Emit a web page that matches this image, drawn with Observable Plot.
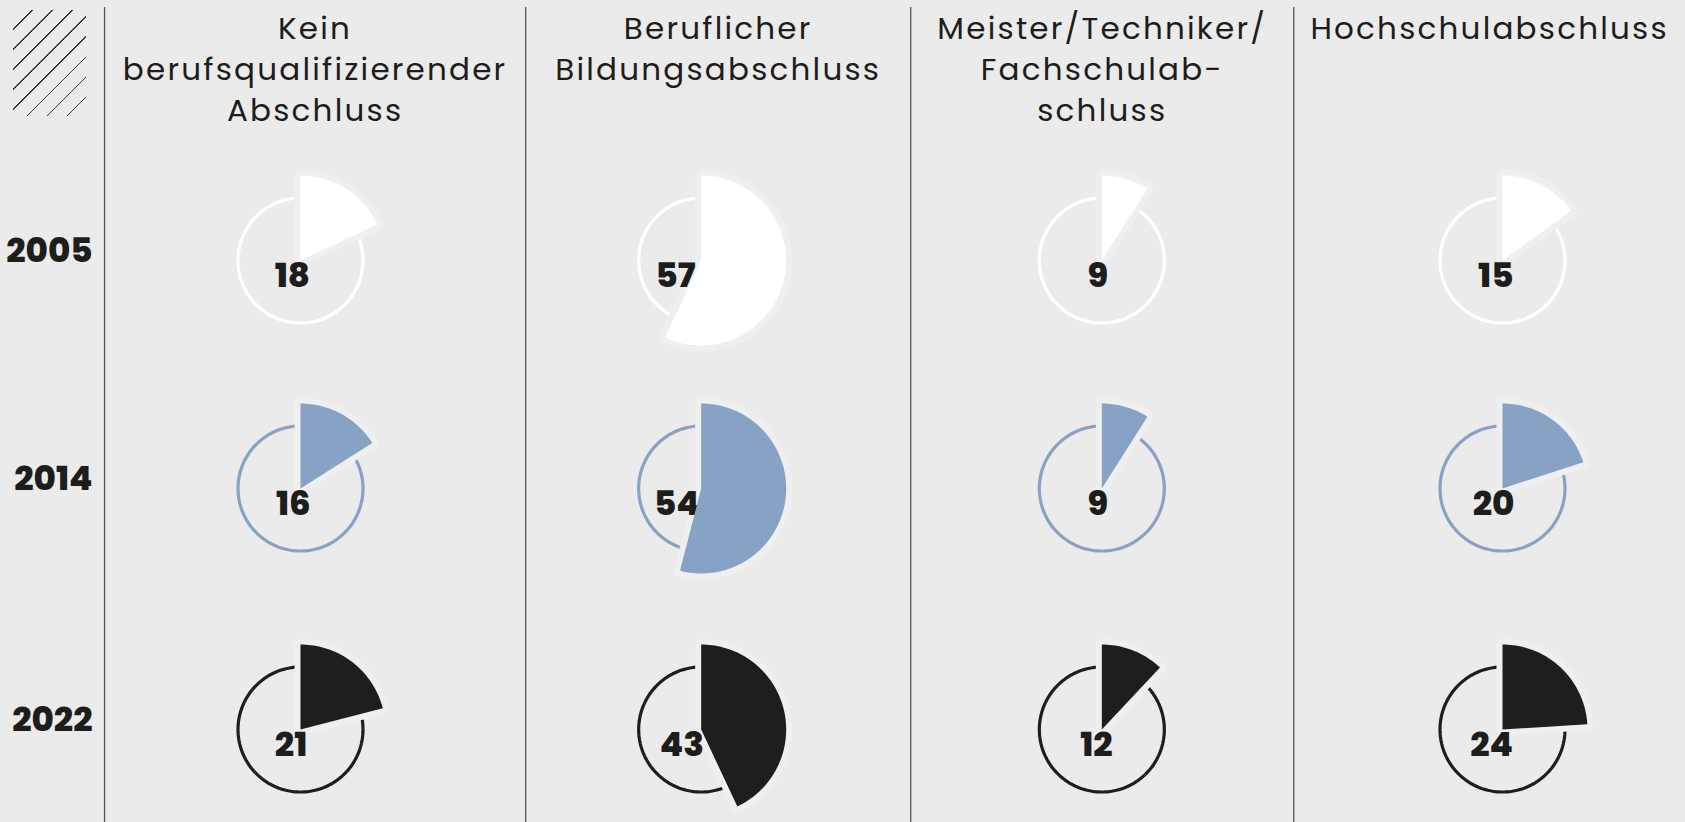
<!DOCTYPE html>
<html><head><meta charset="utf-8">
<script src="https://cdn.jsdelivr.net/npm/d3@7"></script>
<script src="https://cdn.jsdelivr.net/npm/@observablehq/plot@0.6"></script>
<style>
html,body{margin:0;padding:0;background:#ebebeb;}
#wrap{position:relative;width:1685px;height:822px;overflow:hidden;background:#ebebeb;}
#wrap svg{position:absolute;left:0;top:0;}
#hatch{position:absolute;left:13px;top:10px;width:73px;height:106px;z-index:2;
  background:repeating-linear-gradient(135deg, transparent 0 13.2px, #3b3a30 13.2px 14.2px);}
g[aria-description="header"] text{letter-spacing:2.2px;}
</style></head><body><div id="wrap"><div id="hatch"></div></div>
<script>
// ---- data ----
const categories = ["Kein berufsqualifizierender Abschluss", "Beruflicher Bildungsabschluss", "Meister/Techniker/Fachschulabschluss", "Hochschulabschluss"];
const headerLines = [["Kein", "berufsqualifizierender", "Abschluss"], ["Beruflicher", "Bildungsabschluss"], ["Meister/Techniker/", "Fachschulab-", "schluss"], ["Hochschulabschluss"]];
const years = ["2005", "2014", "2022"];
const values2005 = [18, 57, 9, 15];
const values2014 = [16, 54, 9, 20];
const values2022 = [21, 43, 12, 24];
const yearColors = ["#ffffff", "#87a2c4", "#1e1e1c"];

// ---- layout ----
const W = 1685, H = 822;
const colDomain = [0, 3], colRange = [300, 1502];
const rowDomain = [0, 1, 2], rowRange = [260, 488, 729];
const colScale = d3.scaleLinear(colDomain, colRange);
const rowScale = d3.scaleLinear(rowDomain, rowRange);
const wedgeR = 85, ringR = 62.5;
const dividers = [-0.489, 0.562, 1.523, 2.479, colScale.invert(W)];
const halo = "#efefef", ink = "#1d1d1b";
const font = "Poppins, 'Open Sans', sans-serif";

const series = [values2005, values2014, values2022];
const cells = [];
series.forEach((vals, r) => vals.forEach((v, c) => cells.push({year: years[r], cat: categories[c], value: v, row: r, col: c, key: years[r] + "|" + c})));

// offset a cell centre by pixel amounts, expressed back in data units
const at = (d, px, py) => ({x: colScale.invert(colScale(d.col) + px), y: rowScale.invert(rowScale(d.row) + py), key: d.key, year: d.year});

function wedgePts(d) {
  const pts = [at(d, 0, 0)];
  const n = Math.max(4, Math.ceil(d.value * 2));
  const end = d.value / 100 * 2 * Math.PI;
  for (let k = 0; k <= n; k++) {
    const a = end * k / n;
    pts.push(at(d, wedgeR * Math.sin(a), -wedgeR * Math.cos(a)));
  }
  pts.push(at(d, 0, 0));
  pts.push(pts[1]);
  return pts;
}
function ringPts(d) {
  const pts = [];
  for (let k = 0; k <= 160; k++) {
    const a = 2 * Math.PI * k / 160;
    pts.push(at(d, ringR * Math.sin(a), -ringR * Math.cos(a)));
  }
  return pts;
}
const wedges = cells.flatMap(wedgePts);
const rings = cells.flatMap(ringPts);
const labels = cells.map(d => ({...at(d, -0.45 * d.value, 16), value: d.value}));

const chart = Plot.plot({
  width: W, height: H,
  marginLeft: 0, marginRight: 0, marginTop: 7, marginBottom: 0,
  style: {background: "transparent", overflow: "visible"},
  x: {type: "linear", domain: colDomain, range: colRange, axis: null},
  y: {type: "linear", domain: rowDomain, range: rowRange, axis: null},
  color: {domain: years, range: yearColors},
  marks: [
    Plot.ruleX(dividers.slice(0, 4), {stroke: "#555", strokeWidth: 1.3}),
    Plot.line(rings, {x: "x", y: "y", z: "key", stroke: "year", strokeWidth: 3.2, curve: "linear"}),
    Plot.line(wedges, {x: "x", y: "y", z: "key", fill: halo, stroke: halo, strokeWidth: 12, strokeLinejoin: "round", curve: "linear"}),
    Plot.text(labels, {x: "x", y: "y", text: d => String(d.value),
      fontSize: 34, fontWeight: 800, fill: ink, fontFamily: font}),
    Plot.line(wedges, {x: "x", y: "y", z: "key", fill: "year", stroke: null, curve: "linear"}),
    Plot.text(years, {x: () => dividers[0], y: (d, i) => i, text: d => d, textAnchor: "end", dx: -12, dy: -9,
      fontSize: 34, fontWeight: 800, fill: ink, fontFamily: font}),
    Plot.text(headerLines, {x: (d, i) => (dividers[i] + dividers[i + 1]) / 2, frameAnchor: "top", text: d => d.join("\n"),
      lineAnchor: "top", lineHeight: 1.33, dy: 2, fontSize: 31, fontWeight: 400, fill: ink, fontFamily: font,
      ariaDescription: "header"})
  ]
});
document.getElementById("wrap").appendChild(chart);
</script></body></html>
